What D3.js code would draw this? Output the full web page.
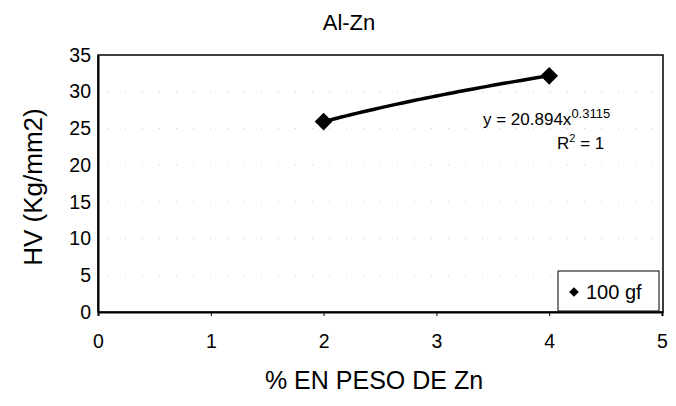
<!DOCTYPE html>
<html>
<head>
<meta charset="utf-8">
<script src="https://cdn.jsdelivr.net/npm/d3@7"></script>
<style>
  html, body { margin: 0; padding: 0; background: #fff; }
  svg { display: block; font-family: Arial, "Liberation Sans", sans-serif; }
</style>
</head>
<body>
<svg id="chart" width="676" height="406"></svg>
<script>
// Hardness (HV) versus Zn weight percent, 100 gf load
const zincPercent = [2, 4];
const hvValues = [25.93, 32.17];
const seriesName = "100 gf";

// Power trendline y = a * x^b
const trendCoef = [20.894, 0.3115];
const trendR2 = 1;

const xTicks = [0, 1, 2, 3, 4, 5];
const yTicks = [0, 5, 10, 15, 20, 25, 30, 35];

const svg = d3.select("#chart");
const plot = { left: 98, right: 663, top: 55, bottom: 312 };
const FONT = "Arial, 'Liberation Sans', sans-serif";

const x = d3.scaleLinear().domain([0, 5]).range([plot.left, plot.right - 1]);
const y = d3.scaleLinear().domain([0, 35]).range([plot.bottom, plot.top]);

// faint dotted gridlines
svg.append("g")
  .selectAll("line")
  .data(yTicks.slice(1, -1))
  .join("line")
  .attr("x1", plot.left + 10).attr("x2", plot.right - 10)
  .attr("y1", d => y(d)).attr("y2", d => y(d))
  .attr("stroke", "#aaa")
  .attr("stroke-width", 1)
  .attr("stroke-dasharray", "1,16")
  .attr("opacity", 0.6);

// plot frame
svg.append("rect")
  .attr("x", plot.left).attr("y", plot.top)
  .attr("width", plot.right - plot.left)
  .attr("height", plot.bottom - plot.top)
  .attr("fill", "none")
  .attr("stroke", "#000")
  .attr("stroke-width", 1.5);

// axes
const xAxis = svg.append("g")
  .attr("transform", `translate(0,${plot.bottom})`)
  .call(d3.axisBottom(x).tickValues(xTicks).tickFormat(d3.format("d"))
    .tickSize(4).tickPadding(18));
const yAxis = svg.append("g")
  .attr("transform", `translate(${plot.left},0)`)
  .call(d3.axisLeft(y).tickValues(yTicks).tickFormat(d3.format("d"))
    .tickSize(0).tickPadding(7));

[xAxis, yAxis].forEach(g => {
  g.select(".domain").attr("stroke", "#000").attr("stroke-width", 2);
  g.selectAll(".tick line").attr("stroke", "#000");
  g.selectAll(".tick text")
    .attr("fill", "#000")
    .style("font-size", "19.5px")
    .style("font-family", FONT);
});
xAxis.selectAll(".tick text").attr("dy", "0.72em");

// trendline from fitted power law
const trendX = d3.range(zincPercent[0], zincPercent[1] + 0.001, 0.05);
const line = d3.line()
  .x(d => x(d))
  .y(d => y(trendCoef[0] * Math.pow(d, trendCoef[1])));
svg.append("path")
  .datum(trendX)
  .attr("d", line)
  .attr("fill", "none")
  .attr("stroke", "#000")
  .attr("stroke-width", 3.5)
  .attr("stroke-linecap", "round");

// data markers
const diamond = d3.symbol().type(d3.symbolDiamond2).size(200);
svg.append("g")
  .selectAll("path")
  .data(zincPercent.map((d, i) => [d, hvValues[i]]))
  .join("path")
  .attr("d", diamond)
  .attr("transform", d => `translate(${x(d[0])},${y(d[1])})`)
  .attr("fill", "#000");

// trendline equation
const eq = svg.append("text")
  .attr("x", 483).attr("y", 125)
  .attr("fill", "#000")
  .style("font-size", "17px");
eq.append("tspan").text(`y = ${trendCoef[0]}x`);
eq.append("tspan").attr("dy", -7).style("font-size", "13px").text(trendCoef[1]);

const r2 = svg.append("text")
  .attr("x", 557).attr("y", 149)
  .attr("fill", "#000")
  .style("font-size", "17px");
r2.append("tspan").text("R");
r2.append("tspan").attr("dy", -7).style("font-size", "11px").text("2");
r2.append("tspan").attr("dy", 7).text(` = ${trendR2}`);

// legend
const lg = svg.append("g");
lg.append("rect")
  .attr("x", 558).attr("y", 271)
  .attr("width", 101).attr("height", 40)
  .attr("fill", "#fff")
  .attr("stroke", "#000")
  .attr("stroke-width", 1);
lg.append("path")
  .attr("d", d3.symbol().type(d3.symbolDiamond2).size(60))
  .attr("transform", "translate(574,292)")
  .attr("fill", "#000");
lg.append("text")
  .attr("x", 586).attr("y", 299)
  .attr("fill", "#000")
  .style("font-size", "20px")
  .text(seriesName);

// titles
svg.append("text")
  .attr("x", 349).attr("y", 30)
  .attr("text-anchor", "middle")
  .attr("fill", "#000")
  .style("font-size", "22px")
  .text("Al-Zn");

svg.append("text")
  .attr("x", 374).attr("y", 389)
  .attr("text-anchor", "middle")
  .attr("fill", "#000")
  .style("font-size", "25px")
  .text("% EN PESO DE Zn");

svg.append("text")
  .attr("transform", `translate(42,187) rotate(-90)`)
  .attr("text-anchor", "middle")
  .attr("fill", "#000")
  .style("font-size", "26px")
  .text("HV (Kg/mm2)");
</script>
</body>
</html>
